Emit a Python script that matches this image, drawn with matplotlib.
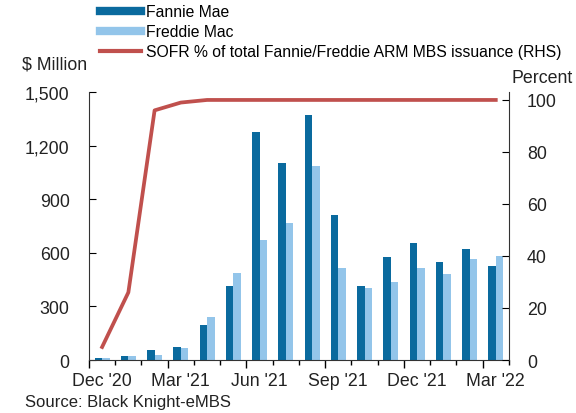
import numpy as np
import matplotlib
matplotlib.use('Agg')
import matplotlib.pyplot as plt
from matplotlib.lines import Line2D

plt.rcParams['font.family'] = ['Liberation Sans', 'DejaVu Sans']

months = ["Dec '20", "Jan '21", "Feb '21", "Mar '21", "Apr '21", "May '21", "Jun '21", "Jul '21",
          "Aug '21", "Sep '21", "Oct '21", "Nov '21", "Dec '21", "Jan '22", "Feb '22", "Mar '22"]
fannie = [12, 20, 56, 75, 196, 412, 1278, 1104, 1373, 812, 412, 576, 655, 550, 621, 524]
freddie = [10, 20, 30, 65, 239, 490, 672, 767, 1086, 515, 403, 438, 515, 481, 565, 584]
sofr_pct = [5, 26, 96, 99, 100, 100, 100, 100, 100, 100, 100, 100, 100, 100, 100, 100]

c_fannie = '#0A6A9E'
c_freddie = '#93C5EA'
c_sofr = '#C0504D'
txt = '#222222'

fig = plt.figure(figsize=(5.76, 4.14), dpi=100)
ax = fig.add_axes([0.1545, 0.128, 0.729, 0.647])
ax2 = ax.twinx()

x = np.arange(len(months))
w = 0.285
ax.bar(x - w / 2, fannie, width=w, color=c_fannie, zorder=2)
ax.bar(x + w / 2, freddie, width=w, color=c_freddie, zorder=2)
ax2.plot(x, sofr_pct, color=c_sofr, lw=2.7, zorder=3)

ax.set_xlim(-0.5, len(months) - 0.5)
ax.set_ylim(0, 1500)
ax2.set_ylim(0, 103)
ax.set_yticks(np.arange(0, 1501, 300))
ax.set_yticklabels([f'{v:,}' for v in range(0, 1501, 300)])
ax2.set_yticks(np.arange(0, 101, 20))

# ticks on month boundaries (long every quarter), labels under the quarter months
ax.set_xticks(np.arange(-0.5, len(months), 3))
ax.set_xticks(np.arange(-0.5, len(months), 1), minor=True)
ax.set_xticklabels([])
ax.tick_params(axis='x', which='major', direction='out', length=6, width=1)
ax.tick_params(axis='x', which='minor', direction='out', length=3.5, width=1)
for p in x[::3]:
    ax.text(p, -0.045, months[p], transform=ax.get_xaxis_transform(), ha='center', va='top',
            fontsize=12.8, color=txt)

ax.tick_params(axis='y', direction='in', length=5, labelsize=12.8, pad=14, labelcolor=txt)
ax2.tick_params(axis='y', direction='in', length=5, labelsize=12.8, pad=13, labelcolor=txt)

for a in (ax, ax2):
    a.spines['top'].set_visible(False)
    for s in a.spines.values():
        s.set_color('#333333')
ax2.spines['left'].set_visible(False)
ax2.spines['bottom'].set_visible(False)
ax.spines['right'].set_visible(False)

fig.text(0.038, 0.843, '$ Million', fontsize=12.8, ha='left', va='center', color=txt)
fig.text(0.995, 0.81, 'Percent', fontsize=12.8, ha='right', va='center', color=txt)
fig.text(0.043, 0.027, 'Source: Black Knight-eMBS', fontsize=12, ha='left', va='center', color=txt)

handles = [Line2D([], [], color=c_fannie, lw=6),
           Line2D([], [], color=c_freddie, lw=6),
           Line2D([], [], color=c_sofr, lw=3)]
fig.legend(handles, ['Fannie Mae', 'Freddie Mac', 'SOFR % of total Fannie/Freddie ARM MBS issuance (RHS)'],
           loc='upper left', bbox_to_anchor=(0.152, 1.018), frameon=False, fontsize=11.3,
           handlelength=2.6, handletextpad=0.35, labelspacing=0.32, borderpad=0.3)

fig.savefig('out.png', dpi=100)
